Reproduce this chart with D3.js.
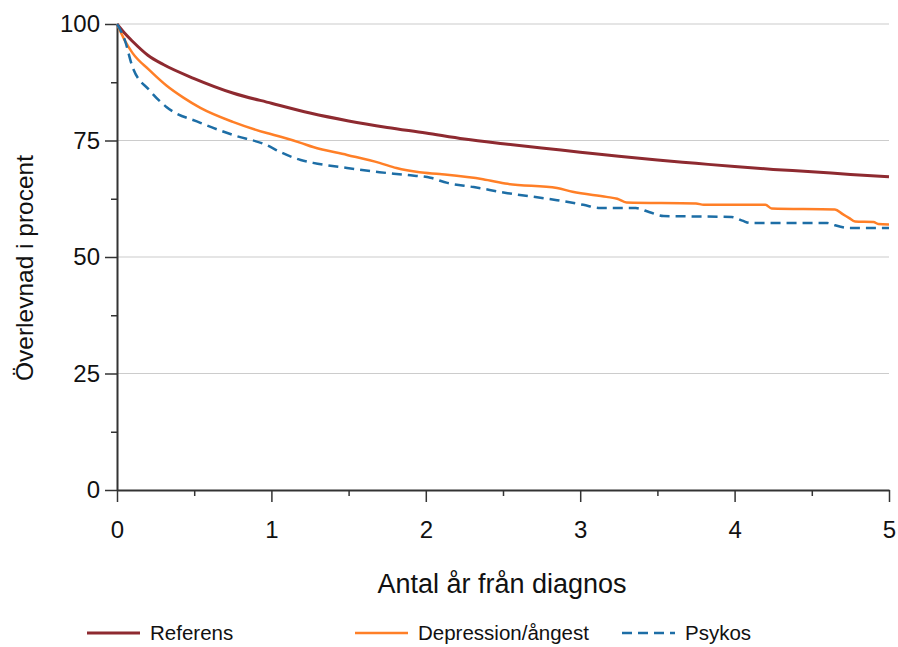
<!DOCTYPE html>
<html>
<head>
<meta charset="utf-8">
<script src="https://cdn.jsdelivr.net/npm/d3@7"></script>
<style>
  body { margin: 0; background: white; }
  text { font-family: "Liberation Sans", Arial, sans-serif; }
</style>
</head>
<body>
<svg id="chart" width="898" height="647"></svg>
<script>
// survival, percent, against years since diagnosis
let referensYears = [0, 0.05, 0.1, 0.2, 0.3, 0.5, 0.75, 1, 1.25, 1.5, 1.75, 2, 2.25, 2.5, 2.75, 3, 3.25, 3.5, 3.75, 4, 4.25, 4.5, 4.75, 5]
let referensValues = [100, 98, 96.3, 93.3, 91.3, 88.3, 85.2, 83, 80.9, 79.2, 77.8, 76.6, 75.3, 74.3, 73.4, 72.5, 71.6, 70.8, 70.1, 69.4, 68.8, 68.3, 67.7, 67.2]

let depressionYears = [0, 0.05, 0.1, 0.21, 0.32, 0.43, 0.54, 0.75, 0.97, 1.06, 1.19, 1.27, 1.49, 1.7, 1.81, 1.96, 2.09, 2.37, 2.53, 2.85, 2.95, 3.17, 3.24, 3.3, 3.75, 3.8, 4.2, 4.24, 4.65, 4.7, 4.74, 4.78, 4.9, 4.93, 5]
let depressionValues = [100, 96.5, 93.8, 90.1, 86.8, 84.2, 82, 79, 76.6, 75.8, 74.5, 73.6, 71.9, 70.2, 69.1, 68.2, 67.8, 66.7, 65.7, 64.8, 64, 62.9, 62.5, 61.7, 61.5, 61.2, 61.2, 60.4, 60.2, 59.2, 58.4, 57.6, 57.5, 57.1, 57]

let psykosYears = [0, 0.05, 0.1, 0.21, 0.32, 0.54, 0.75, 0.97, 1.06, 1.19, 1.27, 1.49, 1.7, 1.88, 2.03, 2.14, 2.31, 2.53, 2.85, 3.02, 3.13, 3.36, 3.45, 3.54, 3.98, 4.05, 4.1, 4.6, 4.65, 4.75, 5]
let psykosValues = [100, 96.6, 90.8, 85.8, 82.2, 78.8, 76.2, 74, 72.5, 70.8, 70.2, 69.1, 68.2, 67.6, 67, 65.9, 65, 63.7, 62.2, 61.2, 60.5, 60.5, 59.6, 58.8, 58.6, 57.8, 57.3, 57.3, 56.8, 56.2, 56.2]

let yTicks = [0, 25, 50, 75, 100]
let xTicks = [0, 1, 2, 3, 4, 5]

let seriesNames = ["Referens", "Depression/ångest", "Psykos"]
let seriesColors = ["#8e2a30", "#ff7f27", "#1d6ea6"]
let seriesDash = [null, null, "10,6"]

let svg = d3.select("#chart")

let plotLeft = 117
let plotRight = 889
let plotTop = 24
let plotBottom = 490

let x = d3.scaleLinear().domain([0, 5]).range([plotLeft, plotRight])
let y = d3.scaleLinear().domain([0, 100]).range([plotBottom, plotTop])

// gridlines
svg.append("g")
    .selectAll("line")
    .data(yTicks.filter(d => d > 0))
    .join("line")
    .attr("x1", plotLeft)
    .attr("x2", plotRight)
    .attr("y1", d => y(d))
    .attr("y2", d => y(d))
    .attr("stroke", "#cccccc")
    .attr("stroke-width", 1.2)

// minor ticks first so the main axes draw over them
let yMinor = d3.axisLeft(y).tickValues(d3.range(12.5, 100, 25)).tickSize(6).tickFormat("")
let xMinor = d3.axisBottom(x).tickValues(d3.range(0.5, 5, 1)).tickSize(6).tickFormat("")

svg.append("g")
    .attr("transform", "translate(" + plotLeft + ",0)")
    .call(yMinor)
    .call(g => g.select(".domain").remove())
    .call(g => g.selectAll("line").attr("stroke", "#333").attr("stroke-width", 1.5))

svg.append("g")
    .attr("transform", "translate(0," + plotBottom + ")")
    .call(xMinor)
    .call(g => g.select(".domain").remove())
    .call(g => g.selectAll("line").attr("stroke", "#333").attr("stroke-width", 1.5))

let yAxis = svg.append("g")
    .attr("transform", "translate(" + plotLeft + ",0)")
    .call(d3.axisLeft(y).tickValues(yTicks).tickSize(12).tickSizeOuter(0).tickPadding(5).tickFormat(d3.format("d")))

let xAxis = svg.append("g")
    .attr("transform", "translate(0," + plotBottom + ")")
    .call(d3.axisBottom(x).tickValues(xTicks).tickSize(12).tickSizeOuter(0).tickPadding(19).tickFormat(d3.format("d")))

for (let g of [yAxis, xAxis]) {
    g.select(".domain").attr("stroke", "#333").attr("stroke-width", 2)
    g.selectAll(".tick line").attr("stroke", "#333").attr("stroke-width", 1.5)
    g.selectAll(".tick text")
        .attr("font-family", "Liberation Sans, Arial, sans-serif")
        .attr("font-size", "24px")
        .attr("fill", "#111")
}

// curves
let yearsList = [referensYears, depressionYears, psykosYears]
let valuesList = [referensValues, depressionValues, psykosValues]

let line = d3.line()
    .x(d => x(d[0]))
    .y(d => y(d[1]))
    .curve(d3.curveMonotoneX)

for (let i = 0; i < seriesNames.length; i++) {
    let pts = yearsList[i].map((t, j) => [t, valuesList[i][j]])
    svg.append("path")
        .datum(pts)
        .attr("fill", "none")
        .attr("stroke", seriesColors[i])
        .attr("stroke-width", i == 0 ? 3 : 2.5)
        .attr("stroke-dasharray", seriesDash[i])
        .attr("d", line)
}

// axis titles
svg.append("text")
    .text("Antal år från diagnos")
    .attr("x", 502)
    .attr("y", 593)
    .attr("text-anchor", "middle")
    .attr("font-size", "27px")
    .attr("fill", "#111")

svg.append("text")
    .text("Överlevnad i procent")
    .attr("transform", "translate(33,268) rotate(-90)")
    .attr("text-anchor", "middle")
    .attr("font-size", "24.5px")
    .attr("fill", "#111")

// legend
let legendX = [87, 355, 622]
let legend = svg.append("g")
    .selectAll("g")
    .data(seriesNames)
    .join("g")
    .attr("transform", (d, i) => "translate(" + legendX[i] + ",633)")

legend.append("line")
    .attr("x1", 0)
    .attr("x2", 53)
    .attr("stroke", (d, i) => seriesColors[i])
    .attr("stroke-width", (d, i) => i == 0 ? 3 : 2.5)
    .attr("stroke-dasharray", (d, i) => seriesDash[i])

legend.append("text")
    .text(d => d)
    .attr("x", 63)
    .attr("y", 7)
    .attr("font-size", "20.5px")
    .attr("fill", "#111")
</script>
</body>
</html>
